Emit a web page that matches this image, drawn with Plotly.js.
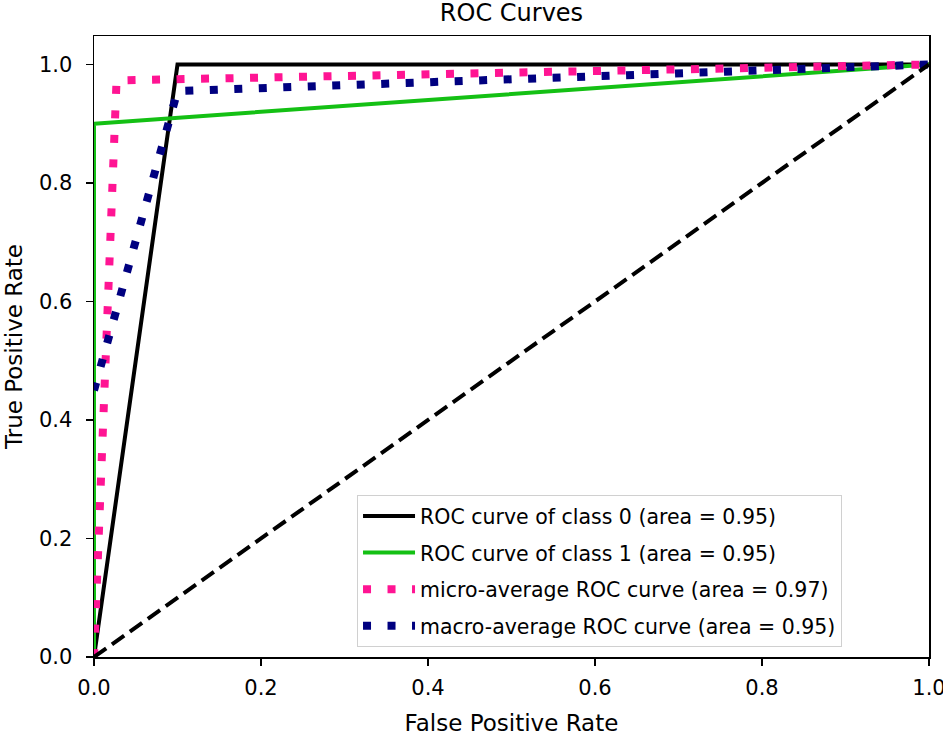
<!DOCTYPE html>
<html>
<head>
<meta charset="utf-8">
<script src="https://cdn.plot.ly/plotly-3.0.1.min.js"></script>
<style>html,body{margin:0;padding:0;background:#fff;}#chart{width:943px;height:736px;}</style>
</head>
<body>
<div id="chart"></div>
<script>
// ROC data
const class0Fpr = [0.0, 0.1, 1.0];
const class0Tpr = [0.0, 1.0, 1.0];
const class1Fpr = [0.0, 0.0, 1.0];
const class1Tpr = [0.0, 0.9, 1.0];
const microFpr = [0.0, 0.027, 1.0];
const microTpr = [0.0, 0.973, 1.0];
const macroFpr = [0.0, 0.1, 1.0];
const macroTpr = [0.45, 0.955, 1.0];
const chanceX = [0.0, 1.0];
const chanceY = [0.0, 1.0];
const seriesNames = [
  "ROC curve of class 0 (area = 0.95)",
  "ROC curve of class 1 (area = 0.95)",
  "micro-average ROC curve (area = 0.97)",
  "macro-average ROC curve (area = 0.95)"
];
const tickVals = [0, 0.2, 0.4, 0.6, 0.8, 1.0];

const FONT = "DejaVu Sans, sans-serif";
const traces = [
  {x: class0Fpr, y: class0Tpr, name: seriesNames[0], legendgroup: "a", mode: "lines",
   line: {color: "#000000", width: 4}},
  {x: class1Fpr, y: class1Tpr, name: seriesNames[1], legendgroup: "b", mode: "lines",
   line: {color: "#14c014", width: 4}},
  {x: microFpr, y: microTpr, name: seriesNames[2], legendgroup: "c", mode: "lines",
   line: {color: "#ff1493", width: 8, dash: "8px,16.5px"}},
  {x: macroFpr, y: macroTpr, name: seriesNames[3], legendgroup: "d", mode: "lines",
   line: {color: "#000080", width: 8, dash: "8px,16.5px"}},
  {x: chanceX, y: chanceY, showlegend: false, mode: "lines",
   line: {color: "#000000", width: 4, dash: "15px,7px"}}
];

const axisCommon = {
  showgrid: false, zeroline: false, showline: true, mirror: true,
  linecolor: "#000", linewidth: 1.5, ticks: "outside", ticklen: 7, tickwidth: 1.5,
  tickcolor: "#000", tickvals: tickVals, tickformat: ".1f",
  tickfont: {family: FONT, size: 21, color: "#000"}, autorange: false,
  ticklabeloverflow: "allow"
};

const layout = {
  width: 943, height: 736,
  margin: {l: 94, r: 14, t: 36, b: 79},
  paper_bgcolor: "#fff", plot_bgcolor: "#fff",
  font: {family: FONT, color: "#000"},
  title: {text: "ROC Curves", font: {family: FONT, size: 24, color: "#000"},
          x: 0.5, xref: "paper", xanchor: "center", y: 0.994, yref: "container", yanchor: "top"},
  xaxis: Object.assign({}, axisCommon, {range: [0, 1], ticklabelstandoff: 4,
    title: {text: "False Positive Rate", font: {family: FONT, size: 23, color: "#000"}, standoff: 23}}),
  yaxis: Object.assign({}, axisCommon, {range: [0, 1.048], ticklabelstandoff: 9,
    title: {text: "True Positive Rate", font: {family: FONT, size: 23, color: "#000"}, standoff: 10}}),
  showlegend: true,
  legend: {x: 0.315, xanchor: "left", y: 0.016, yanchor: "bottom",
           bgcolor: "rgba(255,255,255,0.9)", bordercolor: "#d0d0d0", borderwidth: 1,
           font: {family: FONT, size: 20.5, color: "#000"},
           traceorder: "grouped", tracegroupgap: 7, itemwidth: 52}
};

Plotly.newPlot("chart", traces, layout, {displayModeBar: false, staticPlot: true});
</script>
</body>
</html>
